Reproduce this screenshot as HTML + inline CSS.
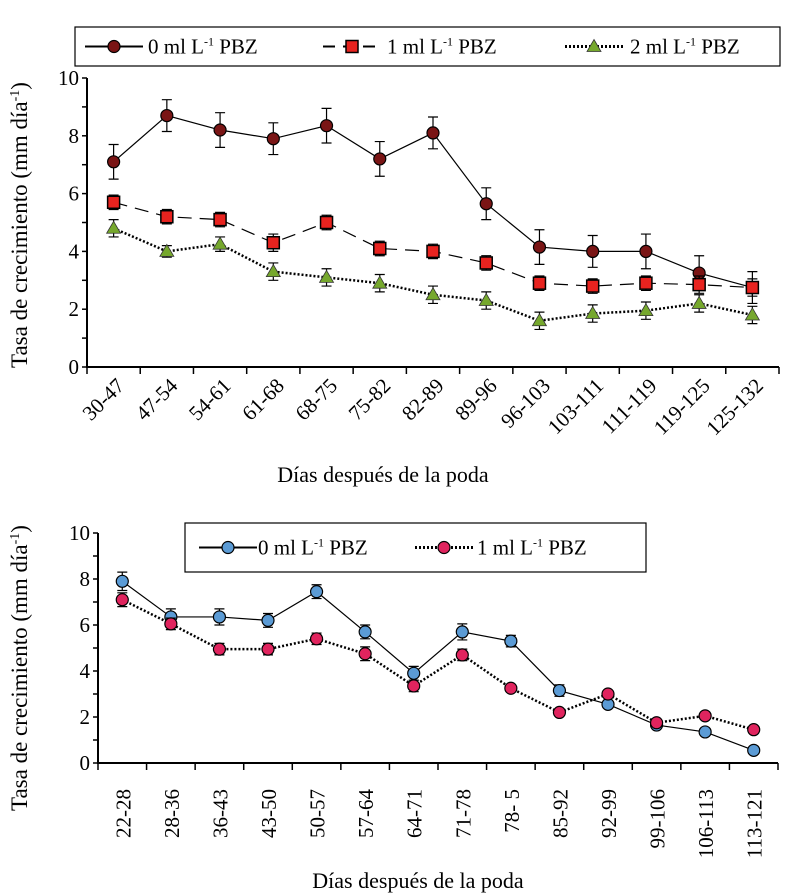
<!DOCTYPE html>
<html><head><meta charset="utf-8"><style>
body{margin:0;background:#fff}
svg{display:block;font-family:"Liberation Serif",serif}
</style></head><body>
<svg id="c" width="787" height="895" viewBox="0 0 787 895"></svg>
<script>
const topCats=["30-47","47-54","54-61","61-68","68-75","75-82","82-89","89-96","96-103","103-111","111-119","119-125","125-132"];
const top0=[7.1,8.7,8.2,7.9,8.35,7.2,8.1,5.65,4.15,4.0,4.0,3.25,2.75];
const top0Err=[0.6,0.55,0.6,0.55,0.6,0.6,0.55,0.55,0.6,0.55,0.6,0.6,0.55];
const top1=[5.7,5.2,5.1,4.3,5.0,4.1,4.0,3.6,2.9,2.8,2.9,2.85,2.75];
const top1Err=[0.25,0.25,0.25,0.3,0.25,0.25,0.25,0.25,0.25,0.25,0.25,0.3,0.3];
const top2=[4.8,4.0,4.25,3.3,3.1,2.9,2.5,2.3,1.6,1.85,1.95,2.2,1.8];
const top2Err=[0.3,0.2,0.25,0.3,0.3,0.3,0.3,0.3,0.3,0.3,0.3,0.3,0.3];
const botCats=["22-28","28-36","36-43","43-50","50-57","57-64","64-71","71-78","78-  5","85-92","92-99","99-106","106-113","113-121"];
const bot0=[7.9,6.35,6.35,6.2,7.45,5.7,3.9,5.7,5.3,3.15,2.55,1.65,1.35,0.55];
const bot0Err=[0.4,0.35,0.35,0.3,0.3,0.3,0.3,0.35,0.25,0.25,0,0,0,0];
const bot1=[7.1,6.05,4.95,4.95,5.4,4.75,3.35,4.7,3.25,2.2,3.0,1.75,2.05,1.45];
const bot1Err=[0.3,0.25,0.25,0.25,0.25,0.3,0.25,0.25,0,0,0,0,0,0];
const yTicks=[0,2,4,6,8,10];

const svg=document.getElementById('c');
const NS='http://www.w3.org/2000/svg';
function el(tag,attrs,parent){const e=document.createElementNS(NS,tag);for(const k in attrs)e.setAttribute(k,attrs[k]);(parent||svg).appendChild(e);return e;}

function chart(cfg){
  const g=el('g',{});
  
  
  const n=cfg.cats.length, bw=(cfg.x1-cfg.x0)/n;
  const X=i=>cfg.x0+bw*(i+0.5);
  const Y=v=>cfg.y0-(v/10)*(cfg.y0-cfg.y10);
  const ax=el('path',{d:`M${cfg.x0},${cfg.y10}V${cfg.y0}H${cfg.x1}`,stroke:'#000','stroke-width':2,fill:'none'},g);
  
  
  for(let v=0;v<=10;v++){el('line',{x1:cfg.x0-5,x2:cfg.x0,y1:Y(v),y2:Y(v),stroke:'#000','stroke-width':1.5},g);}
  yTicks.forEach(v=>{const t=el('text',{x:cfg.x0-8,y:Y(v)+7,'text-anchor':'end','font-size':21},g);t.textContent=v;
    
    });
  for(let i=0;i<=n;i++){const x=cfg.x0+bw*i;el('line',{x1:x,x2:x,y1:cfg.y0,y2:cfg.y0+7,stroke:'#000','stroke-width':1.5},g);}
  cfg.cats.forEach((c,i)=>{
    const t=el('text',{'font-size':21,'text-anchor':'end'},g);
    t.textContent=c;
    
    
    if(cfg.rot==-45){t.setAttribute('transform',`translate(${X(i)+12},${cfg.y0+20}) rotate(-45)`);}
    else{t.setAttribute('transform',`translate(${X(i)+8},${cfg.y0+26}) rotate(-90)`);}
  });
  const yt=el('text',{'font-size':23,'text-anchor':'middle',transform:`translate(${cfg.ytx},${cfg.yty}) rotate(-90)`},g);
  yt.innerHTML='Tasa de crecimiento (mm día<tspan dy="-8" font-size="14">-1</tspan><tspan dy="8">)</tspan>';
  
  
  const xt=el('text',{x:cfg.xtx,y:cfg.xty,'font-size':22,'text-anchor':'middle'},g);
  xt.textContent='Días después de la poda';
  
  
  cfg.series.forEach(s=>{
    const sg=el('g',{},g);
    
    
    el('polyline',{points:s.vals.map((v,i)=>X(i)+','+Y(v)).join(' '),fill:'none',stroke:'#000','stroke-width':s.sw,'stroke-dasharray':s.dash||'none'},sg);
    s.vals.forEach((v,i)=>{
      const e=s.err[i];
      if(e>0){el('path',{d:`M${X(i)},${Y(v+e)}V${Y(v-e)}M${X(i)-5},${Y(v+e)}h10M${X(i)-5},${Y(v-e)}h10`,stroke:'#000','stroke-width':1.2,fill:'none'},sg);}
      const m=marker(s.shape,X(i),Y(v),s.color,sg);
      
      
    });
  });
}
function marker(shape,x,y,color,p){
  if(shape=='c')return el('circle',{cx:x,cy:y,r:6,fill:color,stroke:'#000','stroke-width':1.2},p);
  if(shape=='s')return el('rect',{x:x-6,y:y-6,width:12,height:12,fill:color,stroke:'#000','stroke-width':1.5},p);
  return el('path',{d:`M${x},${y-7}L${x+7},${y+5}L${x-7},${y+5}Z`,fill:color,stroke:'#333','stroke-width':0.8},p);
}
chart({name:'top-chart',cats:topCats,x0:87,x1:779,y0:367,y10:78,rot:-45,ytx:27,yty:225,xtx:383,xty:482,
 series:[{name:'series-0-pbz',vals:top0,err:top0Err,shape:'c',color:'#7a1515',sw:1.2},
 {name:'series-1-pbz',vals:top1,err:top1Err,shape:'s',color:'#e8231f',sw:1.2,dash:'14 8'},
 {name:'series-2-pbz',vals:top2,err:top2Err,shape:'t',color:'#76a82d',sw:2.5,dash:'2 2'}]});
chart({name:'bottom-chart',cats:botCats,x0:98,x1:778,y0:763,y10:533,rot:-90,ytx:27,yty:668,xtx:418,xty:888,
 series:[{name:'series-0-pbz',vals:bot0,err:bot0Err,shape:'c',color:'#5b9bd5',sw:1.2},
 {name:'series-1-pbz',vals:bot1,err:bot1Err,shape:'c',color:'#e0245e',sw:2.5,dash:'2 2'}]});

function legend(name,x,y,w,h,items){
  const g=el('g',{});
  
  
  el('rect',{x:x,y:y,width:w,height:h,fill:'#fff',stroke:'#000','stroke-width':1.2},g);
  items.forEach(it=>{
    const eg=el('g',{},g);
    
    
    const cy=y+h/2;
    el('line',{x1:it.lx,x2:it.lx+58,y1:cy,y2:cy,stroke:'#000','stroke-width':it.sw,'stroke-dasharray':it.dash||'none'},eg);
    marker(it.shape,it.lx+29,cy,it.color,eg);
    const t=el('text',{x:it.tx,y:cy+7,'font-size':21},eg);
    t.innerHTML=it.label+' ml L<tspan dy="-8" font-size="12">-1</tspan><tspan dy="8"> PBZ</tspan>';
  });
}
legend('top-legend',75,27,705,39,[
 {lx:85,tx:148,label:'0',shape:'c',color:'#7a1515',sw:2},
 {lx:323,tx:387,label:'1',shape:'s',color:'#e8231f',sw:2,dash:'12 8'},
 {lx:565,tx:630,label:'2',shape:'t',color:'#76a82d',sw:3,dash:'2 2'}]);
legend('bottom-legend',185,523,461,49,[
 {lx:199,tx:258,label:'0',shape:'c',color:'#5b9bd5',sw:2},
 {lx:415,tx:477,label:'1 ',shape:'c',color:'#e0245e',sw:3,dash:'2 2'}]);
</script>
</body></html>
